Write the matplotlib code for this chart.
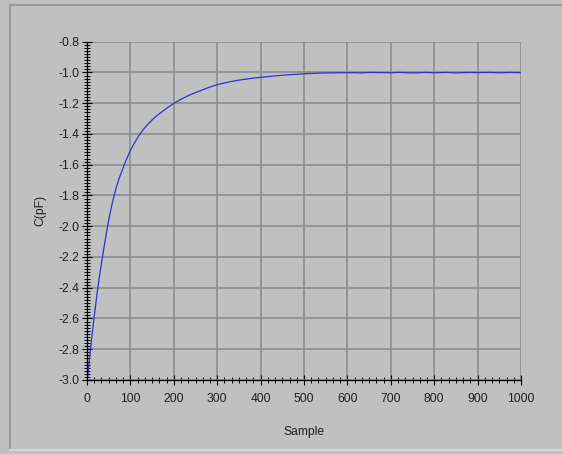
import numpy as np
import matplotlib
matplotlib.use("Agg")
import matplotlib.pyplot as plt
from matplotlib.ticker import AutoMinorLocator
from matplotlib.lines import Line2D

# Data
sample = [1, 4, 8, 12, 16, 20, 24, 29, 35, 40, 45, 51, 57, 63, 68, 74, 80, 86,
          91, 96, 101, 110, 118, 130, 141, 156, 172, 186, 201, 218, 237, 260,
          280, 299, 325, 350, 375, 402, 450, 502, 540, 560, 600, 630, 652, 700,
          720, 750, 780, 800, 830, 850, 880, 900, 930, 950, 975, 998]
cap_pf = [-2.99, -2.91, -2.80, -2.70, -2.60, -2.51, -2.42, -2.32, -2.21, -2.125,
          -2.04, -1.945, -1.865, -1.795, -1.742, -1.69, -1.645, -1.60, -1.565,
          -1.532, -1.502, -1.455, -1.418, -1.37, -1.334, -1.292, -1.257, -1.228,
          -1.200, -1.172, -1.146, -1.12, -1.098, -1.08, -1.063, -1.05, -1.04,
          -1.031, -1.018, -1.008, -1.004, -1.003, -1.001, -1.003, -1.0, -1.002,
          -1.0, -1.003, -1.0, -1.002, -1.0, -1.003, -1.0, -1.001, -1.0, -1.002,
          -1.0, -1.001]

x_ticks = [0, 100, 200, 300, 400, 500, 600, 700, 800, 900, 1000]
y_ticks = [-3.0, -2.8, -2.6, -2.4, -2.2, -2.0, -1.8, -1.6, -1.4, -1.2, -1.0, -0.8]

bg = "#c0c0c0"
font = ["Liberation Sans", "DejaVu Sans"]
fs = 8.7

fig = plt.figure(figsize=(5.62, 4.54), dpi=100, facecolor=bg)
ax = fig.add_axes([87 / 562, 1 - 380 / 454, (521 - 87) / 562, (380 - 41.7) / 454])
ax.set_facecolor(bg)

ax.plot(sample, cap_pf, color="#3030d0", linewidth=0.9, zorder=3)

ax.set_xlim(0, 1000)
ax.set_ylim(-3.0, -0.8)
ax.set_xticks(x_ticks)
ax.set_yticks(y_ticks)
ax.set_xticklabels([str(v) for v in x_ticks])
ax.set_yticklabels([f"{v:.1f}" for v in y_ticks])
ax.xaxis.set_minor_locator(AutoMinorLocator(6))
ax.yaxis.set_minor_locator(AutoMinorLocator(10))

ax.grid(True, which="major", color="#888888", linewidth=1.1, zorder=1)
for s in ["top", "right"]:
    ax.spines[s].set_visible(False)
for s in ["left", "bottom"]:
    ax.spines[s].set_color("black")
    ax.spines[s].set_linewidth(0.9)
    ax.spines[s].set_zorder(4)

ax.tick_params(which="major", direction="inout", length=7.5, width=0.8, color="black")
ax.tick_params(which="minor", direction="inout", length=4.5, width=0.7, color="black")
ax.tick_params(axis="x", which="major", pad=5.5)
ax.tick_params(axis="y", which="major", pad=1.5)
for lab in ax.get_xticklabels() + ax.get_yticklabels():
    lab.set_family(font)
    lab.set_fontsize(fs)
    lab.set_color("#202020")

fig.text(40 / 562, 1 - 210 / 454, "C(pF)", rotation=90, ha="center", va="center",
         family=font, fontsize=fs, color="#202020")
fig.text(304 / 562, 1 - 432 / 454, "Sample", ha="center", va="center",
         family=font, fontsize=fs, color="#202020")

# panel frame
fig.add_artist(Line2D([10 / 562, 1], [1 - 5 / 454, 1 - 5 / 454], color="#9a9a9a", linewidth=1.5))
fig.add_artist(Line2D([10 / 562, 10 / 562], [1 - 5 / 454, 1 - 450 / 454], color="#9a9a9a", linewidth=1.5))
fig.add_artist(Line2D([10 / 562, 1], [1 - 450 / 454, 1 - 450 / 454], color="#d8d8d8", linewidth=1.5))

fig.savefig("out.png", dpi=100, facecolor=bg)
